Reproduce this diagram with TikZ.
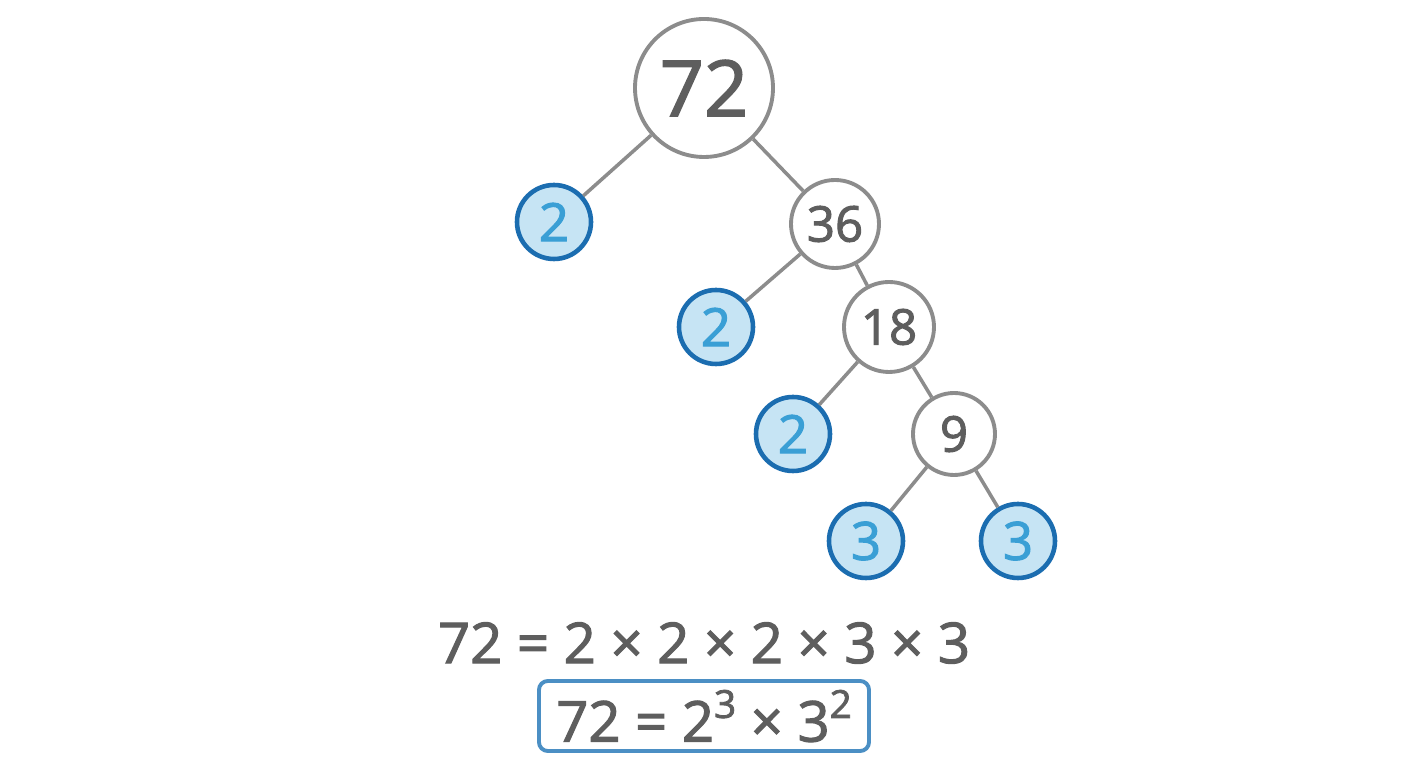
\documentclass[tikz,border=0pt]{standalone}
\usepackage{fontspec}
\setmainfont{Open Sans}
\newfontfamily\heavyfont[FakeBold=2]{Open Sans}
\definecolor{linegray}{HTML}{8C8C8C}
\definecolor{textgray}{HTML}{5E5E5E}
\definecolor{leafblue}{HTML}{C6E4F4}
\definecolor{leafedge}{HTML}{1B6DB0}
\definecolor{leaftext}{HTML}{3A9FD5}
\definecolor{boxblue}{HTML}{4B8FC4}
\newcommand{\supnum}[1]{\raisebox{0.42em}{\fontsize{11}{11}\selectfont #1}}

\begin{document}
\begin{tikzpicture}[
        factor/.style={circle, draw=linegray, line width=1.1pt, fill=white, text=textgray, inner sep=0pt, font=\heavyfont\fontsize{14}{14}\selectfont},
        prime/.style={circle, draw=leafedge, line width=1.3pt, fill=leafblue, text=leaftext, minimum size=0.74cm, inner sep=0pt, font=\heavyfont\fontsize{15}{15}\selectfont},
        branch/.style={draw=linegray, line width=1pt},
        result/.style={text=textgray, font=\heavyfont\fontsize{16}{16}\selectfont}
    ]
    \useasboundingbox[fill=white] (0,0) rectangle (14.08,7.68);
    % the tree
    \node[factor, minimum size=1.38cm, font=\heavyfont\fontsize{22}{22}\selectfont] (Root) at (7.04,6.80) {72};
    \node[prime] (P1) at (5.54,5.46) {2};
    \node[factor, minimum size=0.88cm] (F36) at (8.35,5.44) {36};
    \node[prime] (P2) at (7.16,4.41) {2};
    \node[factor, minimum size=0.90cm] (F18) at (8.89,4.41) {18};
    \node[prime] (P3) at (7.93,3.34) {2};
    \node[factor, minimum size=0.82cm] (F9) at (9.54,3.34) {9};
    \node[prime] (P4) at (8.66,2.27) {3};
    \node[prime] (P5) at (10.18,2.27) {3};
    \draw[branch] (Root) -- (P1);
    \draw[branch] (Root) -- (F36);
    \draw[branch] (F36) -- (P2);
    \draw[branch] (F36) -- (F18);
    \draw[branch] (F18) -- (P3);
    \draw[branch] (F18) -- (F9);
    \draw[branch] (F9) -- (P4);
    \draw[branch] (F9) -- (P5);
    % the product
    \node[result] (Product) at (7.04,1.25) {72 = 2 × 2 × 2 × 3 × 3};
    \node[result, draw=boxblue, line width=1.1pt, rounded corners=2.5pt, minimum width=3.30cm, minimum height=0.70cm, inner sep=0pt] (Powers) at (7.04,0.52) {72 = 2\supnum{3} × 3\supnum{2}};
\end{tikzpicture}
\end{document}
